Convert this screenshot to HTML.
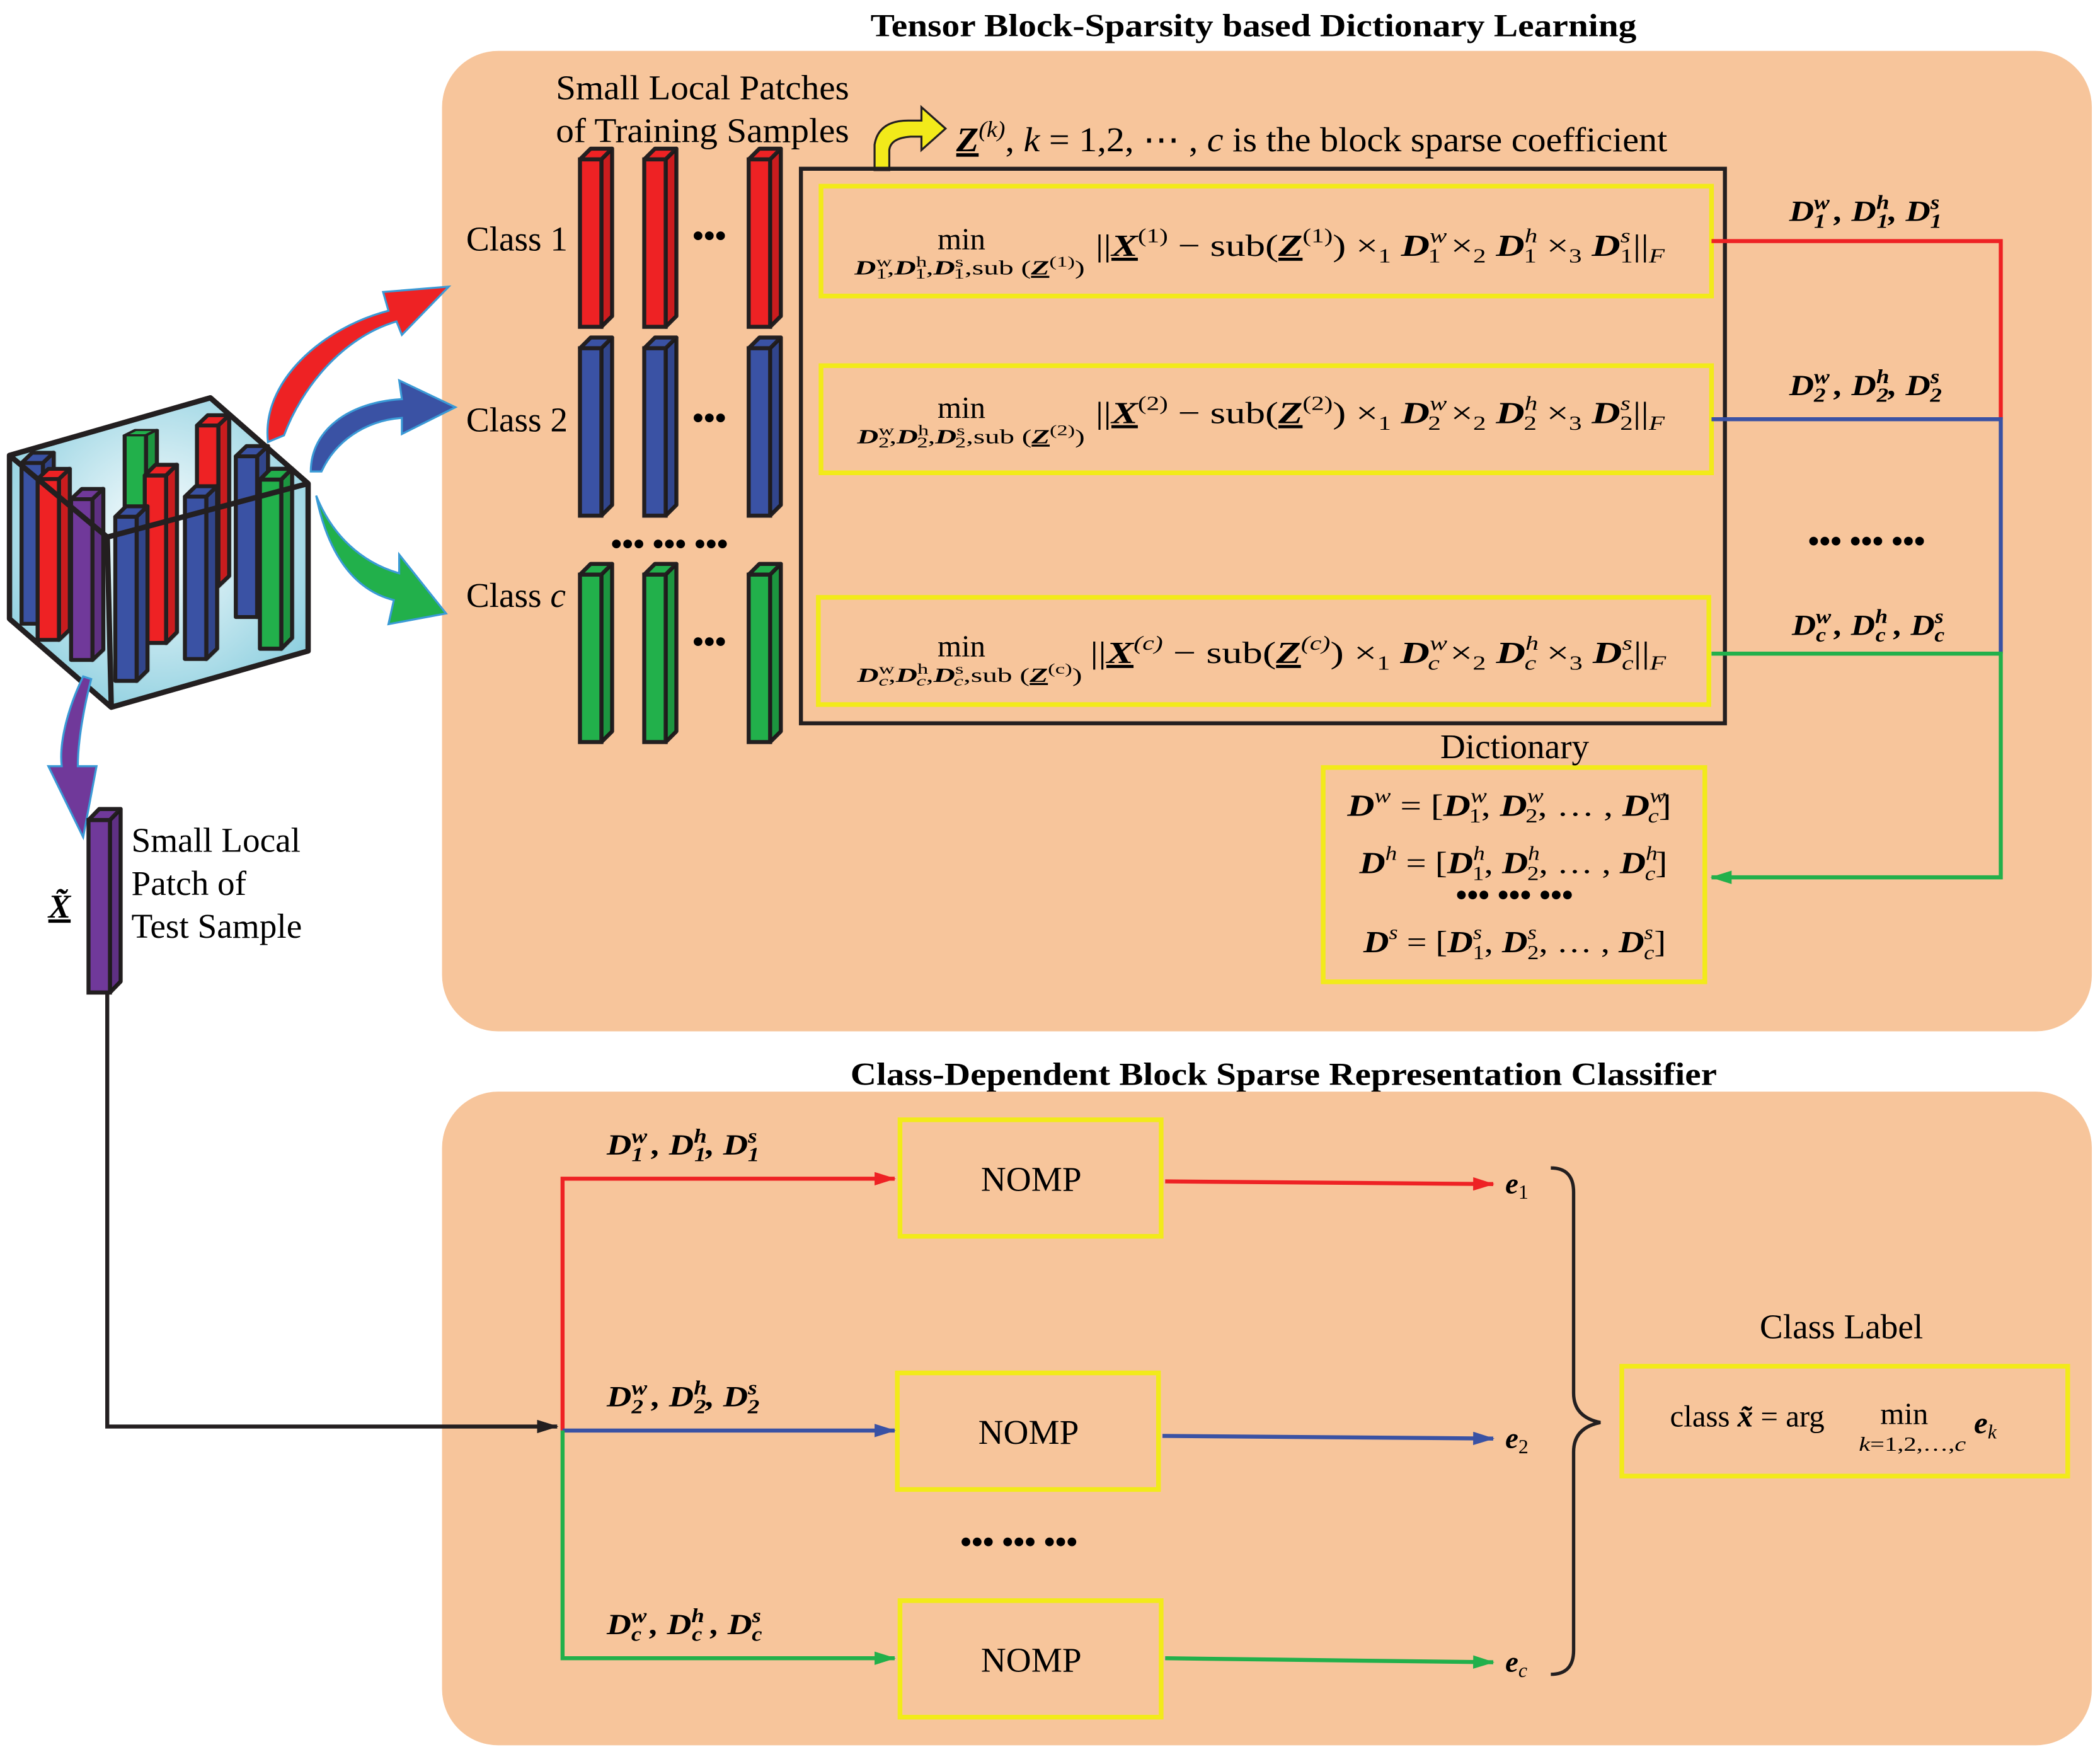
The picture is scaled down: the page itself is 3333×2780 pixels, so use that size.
<!DOCTYPE html>
<html><head><meta charset="utf-8"><style>html,body{margin:0;padding:0;background:#fff}svg{display:block}text{font-family:"Liberation Serif",serif}.b{font-weight:bold;font-style:italic}.s{font-size:15px}</style></head><body>
<svg width="3333" height="2780" viewBox="0 0 1568 1308" xmlns="http://www.w3.org/2000/svg">
<defs>
<marker id="ar" markerWidth="16" markerHeight="10" refX="15" refY="5" orient="auto" markerUnits="userSpaceOnUse"><path d="M0,0L16,5L0,10z" fill="#ee2224"/></marker>
<marker id="ab" markerWidth="16" markerHeight="10" refX="15" refY="5" orient="auto" markerUnits="userSpaceOnUse"><path d="M0,0L16,5L0,10z" fill="#3a52a4"/></marker>
<marker id="ag" markerWidth="16" markerHeight="10" refX="15" refY="5" orient="auto" markerUnits="userSpaceOnUse"><path d="M0,0L16,5L0,10z" fill="#22b04b"/></marker>
<marker id="ak" markerWidth="16" markerHeight="10" refX="15" refY="5" orient="auto" markerUnits="userSpaceOnUse"><path d="M0,0L16,5L0,10z" fill="#231f20"/></marker>
<radialGradient id="cg" cx="0.5" cy="0.45" r="0.6"><stop offset="0" stop-color="#ffffff"/><stop offset="1" stop-color="#8fd0e0"/></radialGradient>
<g id="bar">
<path d="M0,8L8,0L24,0L16,8Z" stroke="#231f20" stroke-width="3" stroke-linejoin="round"/>
<path d="M16,8L24,0L24,125L16,133Z" stroke="#231f20" stroke-width="3" stroke-linejoin="round"/>
<rect x="0" y="8" width="16" height="125" stroke="#231f20" stroke-width="3"/>
<path d="M16,8L24,0L24,125L16,133Z" fill="#000" opacity="0.15"/>
</g>
</defs>
<rect width="1568" height="1308" fill="#fff"/>
<text x="650" y="27" font-size="24" font-weight="bold" textLength="572" lengthAdjust="spacingAndGlyphs">Tensor Block-Sparsity based Dictionary Learning</text>
<rect x="330" y="38" width="1232" height="732" rx="42" fill="#f7c59b"/>
<text x="635" y="810" font-size="24" font-weight="bold" textLength="647" lengthAdjust="spacingAndGlyphs">Class-Dependent Block Sparse Representation Classifier</text>
<rect x="330" y="815" width="1232" height="488" rx="42" fill="#f7c59b"/>

<g font-size="26">
<text x="415" y="74" textLength="219" lengthAdjust="spacingAndGlyphs">Small Local Patches</text>
<text x="415" y="106" textLength="219" lengthAdjust="spacingAndGlyphs">of Training Samples</text>
<text x="348" y="187">Class 1</text>
<text x="348" y="322">Class 2</text>
<text x="348" y="453">Class <tspan font-style="italic">c</tspan></text>
</g>

<g fill="#ee2224"><use href="#bar" x="433" y="111"/><use href="#bar" x="481" y="111"/><use href="#bar" x="559" y="111"/></g>
<g fill="#3a52a4"><use href="#bar" x="433" y="252"/><use href="#bar" x="481" y="252"/><use href="#bar" x="559" y="252"/></g>
<g fill="#22b04b"><use href="#bar" x="433" y="421"/><use href="#bar" x="481" y="421"/><use href="#bar" x="559" y="421"/></g>
<g font-size="24" font-weight="bold">
<text x="517" y="184">•••</text><text x="517" y="320">•••</text><text x="517" y="487">•••</text>
<text x="456" y="414">••• ••• •••</text>
<text x="1350" y="412">••• ••• •••</text>
<text x="717" y="1159">••• ••• •••</text>
<text x="1087" y="676">••• ••• •••</text>
</g>

<path d="M653,127 L653,108 Q656,90 678,90 L688,90 L688,80 L706,96 L688,112 L688,102 L680,102 Q665,103 664,112 L664,127Z" fill="#f2ea1a" stroke="#231f20" stroke-width="1.5"/>
<text x="714" y="113" font-size="26" textLength="531" lengthAdjust="spacingAndGlyphs"><tspan class="b" text-decoration="underline">Z</tspan><tspan font-size="17" dy="-11" font-style="italic">(k)</tspan><tspan dy="11">, <tspan font-style="italic">k</tspan> = 1,2, ⋯ , <tspan font-style="italic">c</tspan> is the block sparse coefficient</tspan></text>

<rect x="598" y="126" width="690" height="414" fill="none" stroke="#231f20" stroke-width="3"/>
<g fill="none" stroke="#f2ea1a" stroke-width="3.5">
<rect x="613" y="139" width="665" height="82"/>
<rect x="613" y="273" width="665" height="80"/>
<rect x="611" y="446" width="665" height="80"/>
<rect x="988" y="573" width="285" height="160"/>
<rect x="672" y="836" width="195" height="87"/>
<rect x="670" y="1025" width="195" height="87"/>
<rect x="672" y="1195" width="195" height="87"/>
<rect x="1211" y="1020" width="333" height="82"/>
</g>

<!-- formulas -->
<g font-size="23">
<text x="700" y="186">min</text>
<text x="638" y="205" font-size="15" textLength="172" lengthAdjust="spacingAndGlyphs"><tspan class="b">D</tspan><tspan font-size="11" dy="-6">w</tspan><tspan font-size="11" dx="-8" dy="9">1</tspan><tspan dy="-3">,</tspan><tspan class="b">D</tspan><tspan font-size="11" dy="-6">h</tspan><tspan font-size="11" dx="-6" dy="9">1</tspan><tspan dy="-3">,</tspan><tspan class="b">D</tspan><tspan font-size="11" dy="-6">s</tspan><tspan font-size="11" dx="-5" dy="9">1</tspan><tspan dy="-3">,sub (</tspan><tspan class="b" text-decoration="underline">Z</tspan><tspan font-size="11" dy="-6">(1)</tspan><tspan dy="6">)</tspan></text>
<text x="818" y="191" textLength="425" lengthAdjust="spacingAndGlyphs">||<tspan class="b" text-decoration="underline">X</tspan><tspan class="s" dy="-10">(1)</tspan><tspan dy="10"> − sub(</tspan><tspan class="b" text-decoration="underline">Z</tspan><tspan class="s" dy="-10">(1)</tspan><tspan dy="10">) ×</tspan><tspan class="s" dy="5">1</tspan><tspan dy="-5"> </tspan><tspan class="b">D</tspan><tspan class="s" dy="-10" font-style="italic">w</tspan><tspan class="s" dx="-11" dy="15">1</tspan><tspan dy="-5">  ×</tspan><tspan class="s" dy="5">2</tspan><tspan dy="-5"> </tspan><tspan class="b">D</tspan><tspan class="s" dy="-10" font-style="italic">h</tspan><tspan class="s" dx="-8" dy="15">1</tspan><tspan dy="-5"> ×</tspan><tspan class="s" dy="5">3</tspan><tspan dy="-5"> </tspan><tspan class="b">D</tspan><tspan class="s" dy="-10" font-style="italic">s</tspan><tspan class="s" dx="-6" dy="15">1</tspan><tspan dy="-5">||</tspan><tspan class="s" font-style="italic" dy="5">F</tspan></text>

<text x="700" y="312">min</text>
<text x="640" y="331" font-size="15" textLength="170" lengthAdjust="spacingAndGlyphs"><tspan class="b">D</tspan><tspan font-size="11" dy="-6">w</tspan><tspan font-size="11" dx="-8" dy="9">2</tspan><tspan dy="-3">,</tspan><tspan class="b">D</tspan><tspan font-size="11" dy="-6">h</tspan><tspan font-size="11" dx="-6" dy="9">2</tspan><tspan dy="-3">,</tspan><tspan class="b">D</tspan><tspan font-size="11" dy="-6">s</tspan><tspan font-size="11" dx="-5" dy="9">2</tspan><tspan dy="-3">,sub (</tspan><tspan class="b" text-decoration="underline">Z</tspan><tspan font-size="11" dy="-6">(2)</tspan><tspan dy="6">)</tspan></text>
<text x="818" y="316" textLength="425" lengthAdjust="spacingAndGlyphs">||<tspan class="b" text-decoration="underline">X</tspan><tspan class="s" dy="-10">(2)</tspan><tspan dy="10"> − sub(</tspan><tspan class="b" text-decoration="underline">Z</tspan><tspan class="s" dy="-10">(2)</tspan><tspan dy="10">) ×</tspan><tspan class="s" dy="5">1</tspan><tspan dy="-5"> </tspan><tspan class="b">D</tspan><tspan class="s" dy="-10" font-style="italic">w</tspan><tspan class="s" dx="-11" dy="15">2</tspan><tspan dy="-5">  ×</tspan><tspan class="s" dy="5">2</tspan><tspan dy="-5"> </tspan><tspan class="b">D</tspan><tspan class="s" dy="-10" font-style="italic">h</tspan><tspan class="s" dx="-8" dy="15">2</tspan><tspan dy="-5"> ×</tspan><tspan class="s" dy="5">3</tspan><tspan dy="-5"> </tspan><tspan class="b">D</tspan><tspan class="s" dy="-10" font-style="italic">s</tspan><tspan class="s" dx="-6" dy="15">2</tspan><tspan dy="-5">||</tspan><tspan class="s" font-style="italic" dy="5">F</tspan></text>

<text x="700" y="490">min</text>
<text x="640" y="509" font-size="15" textLength="168" lengthAdjust="spacingAndGlyphs"><tspan class="b">D</tspan><tspan font-size="11" dy="-6">w</tspan><tspan font-size="11" font-style="italic" dx="-8" dy="9">c</tspan><tspan dy="-3">,</tspan><tspan class="b">D</tspan><tspan font-size="11" dy="-6">h</tspan><tspan font-size="11" font-style="italic" dx="-6" dy="9">c</tspan><tspan dy="-3">,</tspan><tspan class="b">D</tspan><tspan font-size="11" dy="-6">s</tspan><tspan font-size="11" font-style="italic" dx="-5" dy="9">c</tspan><tspan dy="-3">,sub (</tspan><tspan class="b" text-decoration="underline">Z</tspan><tspan font-size="11" dy="-6">(c)</tspan><tspan dy="6">)</tspan></text>
<text x="814" y="495" textLength="430" lengthAdjust="spacingAndGlyphs">||<tspan class="b" text-decoration="underline">X</tspan><tspan class="s" font-style="italic" dy="-10">(c)</tspan><tspan dy="10"> − sub(</tspan><tspan class="b" text-decoration="underline">Z</tspan><tspan class="s" font-style="italic" dy="-10">(c)</tspan><tspan dy="10">) ×</tspan><tspan class="s" dy="5">1</tspan><tspan dy="-5"> </tspan><tspan class="b">D</tspan><tspan class="s" dy="-10" font-style="italic">w</tspan><tspan class="s" font-style="italic" dx="-11" dy="15">c</tspan><tspan dy="-5">  ×</tspan><tspan class="s" dy="5">2</tspan><tspan dy="-5"> </tspan><tspan class="b">D</tspan><tspan class="s" dy="-10" font-style="italic">h</tspan><tspan class="s" font-style="italic" dx="-8" dy="15">c</tspan><tspan dy="-5"> ×</tspan><tspan class="s" dy="5">3</tspan><tspan dy="-5"> </tspan><tspan class="b">D</tspan><tspan class="s" dy="-10" font-style="italic">s</tspan><tspan class="s" font-style="italic" dx="-6" dy="15">c</tspan><tspan dy="-5">||</tspan><tspan class="s" font-style="italic" dy="5">F</tspan></text>
</g>

<g font-size="22" font-weight="bold" font-style="italic">
<text x="1336" y="165" textLength="114" lengthAdjust="spacingAndGlyphs">D<tspan class="s" dy="-9">w</tspan><tspan class="s" dx="-10" dy="14">1</tspan><tspan dy="-5"> , D</tspan><tspan class="s" dy="-9">h</tspan><tspan class="s" dx="-8" dy="14">1</tspan><tspan dy="-5">, D</tspan><tspan class="s" dy="-9">s</tspan><tspan class="s" dx="-6" dy="14">1</tspan></text>
<text x="1336" y="295" textLength="114" lengthAdjust="spacingAndGlyphs">D<tspan class="s" dy="-9">w</tspan><tspan class="s" dx="-10" dy="14">2</tspan><tspan dy="-5"> , D</tspan><tspan class="s" dy="-9">h</tspan><tspan class="s" dx="-8" dy="14">2</tspan><tspan dy="-5">, D</tspan><tspan class="s" dy="-9">s</tspan><tspan class="s" dx="-6" dy="14">2</tspan></text>
<text x="1338" y="474" textLength="114" lengthAdjust="spacingAndGlyphs">D<tspan class="s" dy="-9">w</tspan><tspan class="s" dx="-10" dy="14">c</tspan><tspan dy="-5"> , D</tspan><tspan class="s" dy="-9">h</tspan><tspan class="s" dx="-8" dy="14">c</tspan><tspan dy="-5"> , D</tspan><tspan class="s" dy="-9">s</tspan><tspan class="s" dx="-6" dy="14">c</tspan></text>
<text x="453" y="862" textLength="114" lengthAdjust="spacingAndGlyphs">D<tspan class="s" dy="-9">w</tspan><tspan class="s" dx="-10" dy="14">1</tspan><tspan dy="-5"> , D</tspan><tspan class="s" dy="-9">h</tspan><tspan class="s" dx="-8" dy="14">1</tspan><tspan dy="-5">, D</tspan><tspan class="s" dy="-9">s</tspan><tspan class="s" dx="-6" dy="14">1</tspan></text>
<text x="453" y="1050" textLength="114" lengthAdjust="spacingAndGlyphs">D<tspan class="s" dy="-9">w</tspan><tspan class="s" dx="-10" dy="14">2</tspan><tspan dy="-5"> , D</tspan><tspan class="s" dy="-9">h</tspan><tspan class="s" dx="-8" dy="14">2</tspan><tspan dy="-5">, D</tspan><tspan class="s" dy="-9">s</tspan><tspan class="s" dx="-6" dy="14">2</tspan></text>
<text x="453" y="1220" textLength="116" lengthAdjust="spacingAndGlyphs">D<tspan class="s" dy="-9">w</tspan><tspan class="s" dx="-10" dy="14">c</tspan><tspan dy="-5"> , D</tspan><tspan class="s" dy="-9">h</tspan><tspan class="s" dx="-8" dy="14">c</tspan><tspan dy="-5"> , D</tspan><tspan class="s" dy="-9">s</tspan><tspan class="s" dx="-6" dy="14">c</tspan></text>
</g>

<text x="1131" y="566" font-size="26" text-anchor="middle">Dictionary</text>
<g font-size="23">
<text x="1006" y="609" textLength="242" lengthAdjust="spacingAndGlyphs"><tspan class="b">D</tspan><tspan class="s" dy="-10" font-style="italic">w</tspan><tspan dy="10">  = [</tspan><tspan class="b">D</tspan><tspan class="s" font-style="italic" dy="-10">w</tspan><tspan class="s" dx="-11" dy="15">1</tspan><tspan dy="-5">, </tspan><tspan class="b">D</tspan><tspan class="s" font-style="italic" dy="-10">w</tspan><tspan class="s" dx="-11" dy="15">2</tspan><tspan dy="-5">, … , </tspan><tspan class="b">D</tspan><tspan class="s" font-style="italic" dy="-10">w</tspan><tspan class="s" font-style="italic" dx="-11" dy="15">c</tspan><tspan dy="-5">]</tspan></text>
<text x="1015" y="652" textLength="230" lengthAdjust="spacingAndGlyphs"><tspan class="b">D</tspan><tspan class="s" dy="-10" font-style="italic">h</tspan><tspan dy="10">   = [</tspan><tspan class="b">D</tspan><tspan class="s" font-style="italic" dy="-10">h</tspan><tspan class="s" dx="-8" dy="15">1</tspan><tspan dy="-5">, </tspan><tspan class="b">D</tspan><tspan class="s" font-style="italic" dy="-10">h</tspan><tspan class="s" dx="-8" dy="15">2</tspan><tspan dy="-5">, … , </tspan><tspan class="b">D</tspan><tspan class="s" font-style="italic" dy="-10">h</tspan><tspan class="s" font-style="italic" dx="-8" dy="15">c</tspan><tspan dy="-5">]</tspan></text>
<text x="1018" y="711" textLength="226" lengthAdjust="spacingAndGlyphs"><tspan class="b">D</tspan><tspan class="s" dy="-10" font-style="italic">s</tspan><tspan dy="10">   = [</tspan><tspan class="b">D</tspan><tspan class="s" font-style="italic" dy="-10">s</tspan><tspan class="s" dx="-6" dy="15">1</tspan><tspan dy="-5">, </tspan><tspan class="b">D</tspan><tspan class="s" font-style="italic" dy="-10">s</tspan><tspan class="s" dx="-6" dy="15">2</tspan><tspan dy="-5">, … , </tspan><tspan class="b">D</tspan><tspan class="s" font-style="italic" dy="-10">s</tspan><tspan class="s" font-style="italic" dx="-6" dy="15">c</tspan><tspan dy="-5">]</tspan></text>
</g>

<g fill="none" stroke-width="3">
<path d="M1278,180H1494V313" stroke="#ee2224"/>
<path d="M1278,313H1494V488" stroke="#3a52a4"/>
<path d="M1278,488H1494V655H1278" stroke="#22b04b" marker-end="url(#ag)"/>
</g>

<!-- cube -->
<polygon points="7,340 157,297 230,361 230,486 83,528 7,462" fill="url(#cg)"/>
<g stroke="#231f20" stroke-width="4" stroke-linejoin="round">
<g fill="#3a52a4" transform="translate(16,338) scale(1,0.96)"><use href="#bar"/></g>
<g fill="#ee2224" transform="translate(28,350) scale(1,0.96)"><use href="#bar"/></g>
<g fill="#70399a" transform="translate(53,365) scale(1,0.96)"><use href="#bar"/></g>
<g fill="#22b04b" transform="translate(93,321) scale(1,0.5)"><use href="#bar"/></g>
<g fill="#ee2224" transform="translate(147,310) scale(1,0.96)"><use href="#bar"/></g>
<g fill="#ee2224" transform="translate(108,347) scale(1,1)"><use href="#bar"/></g>
<g fill="#3a52a4" transform="translate(86,378) scale(1,0.98)"><use href="#bar"/></g>
<g fill="#3a52a4" transform="translate(138,363) scale(1,0.97)"><use href="#bar"/></g>
<g fill="#3a52a4" transform="translate(176,333) scale(1,0.96)"><use href="#bar"/></g>
<g fill="#22b04b" transform="translate(194,350) scale(1,1.01)"><use href="#bar"/></g>
</g>
<g fill="none" stroke="#231f20" stroke-width="4" stroke-linejoin="round">
<polygon points="7,340 157,297 230,361 230,486 83,528 7,462"/>
<path d="M7,340L80,401L230,361M80,401L83,528"/>
</g>

<path d="M200,330 C195,285 240,245 290,232 L286,218 L335,214 L300,250 L296,240 C255,252 225,290 212,325Z" fill="#ee2224" stroke="#3a9ad6" stroke-width="1.5"/>
<path d="M232,352 C232,320 262,300 300,298 L298,284 L340,304 L300,324 L300,312 C272,314 250,330 240,352Z" fill="#3a52a4" stroke="#3a9ad6" stroke-width="1.5"/>
<path d="M236,370 C248,400 270,420 298,428 L298,414 L333,458 L290,466 L294,448 C262,440 244,410 236,370Z" fill="#22b04b" stroke="#3a9ad6" stroke-width="1.5"/>
<path d="M62,505 C50,530 44,555 46,572 L36,572 L62,625 L72,572 L58,572 C58,555 62,530 68,507Z" fill="#70399a" stroke="#3a9ad6" stroke-width="1.5"/>

<g fill="#70399a" transform="translate(66,604) scale(1,1.03)"><use href="#bar"/></g>
<text x="36" y="685" font-size="25" class="b" text-decoration="underline">X̃</text>
<g font-size="26">
<text x="98" y="636">Small Local</text>
<text x="98" y="668">Patch of</text>
<text x="98" y="700">Test Sample</text>
</g>

<g fill="none" stroke-width="3">
<path d="M80,741V1065H416" stroke="#231f20" marker-end="url(#ak)"/>
<path d="M420,1068V880H668" stroke="#ee2224" marker-end="url(#ar)"/>
<path d="M420,1068H668" stroke="#3a52a4" marker-end="url(#ab)"/>
<path d="M420,1068V1238H668" stroke="#22b04b" marker-end="url(#ag)"/>
<path d="M870,882L1115,884" stroke="#ee2224" marker-end="url(#ar)"/>
<path d="M868,1072L1115,1074" stroke="#3a52a4" marker-end="url(#ab)"/>
<path d="M870,1238L1115,1241" stroke="#22b04b" marker-end="url(#ag)"/>
<path d="M1158,872 Q1175,872 1175,890 V1040 Q1175,1058 1195,1062 Q1175,1066 1175,1084 V1232 Q1175,1250 1158,1250" stroke="#231f20" stroke-width="2.5"/>
</g>
<g font-size="26" text-anchor="middle">
<text x="770" y="889">NOMP</text>
<text x="768" y="1078">NOMP</text>
<text x="770" y="1248">NOMP</text>
</g>
<g font-size="22" class="b">
<text x="1124" y="891">e<tspan class="s" font-weight="normal" font-style="normal" dy="4">1</tspan></text>
<text x="1124" y="1081">e<tspan class="s" font-weight="normal" font-style="normal" dy="4">2</tspan></text>
<text x="1124" y="1248">e<tspan class="s" font-weight="normal" dy="4">c</tspan></text>
</g>
<text x="1375" y="999" font-size="26" text-anchor="middle">Class Label</text>
<text x="1247" y="1065" font-size="23">class <tspan class="b">x̃</tspan> = arg</text>
<text x="1404" y="1063" font-size="23">min</text>
<text x="1388" y="1083" font-size="15" textLength="80" lengthAdjust="spacingAndGlyphs"><tspan font-style="italic">k</tspan>=1,2,…,<tspan font-style="italic">c</tspan></text>
<text x="1474" y="1070" font-size="23" class="b">e<tspan class="s" font-weight="normal" dy="4">k</tspan></text>
</svg>
</body></html>
